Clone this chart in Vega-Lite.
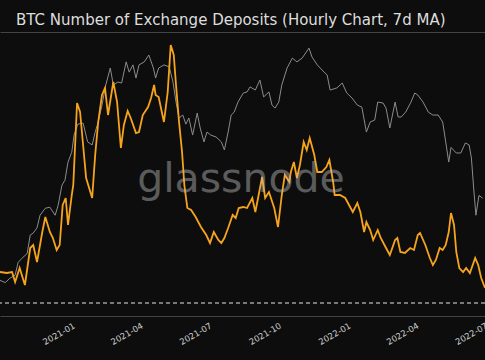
{
  "$schema": "https://vega.github.io/schema/vega-lite/v6.json",
  "width": 485,
  "height": 284,
  "autosize": "none",
  "padding": {"top": 32, "left": 0, "right": 0, "bottom": 44},
  "background": "#0d0d0d",
  "config": {"view": {"stroke": null}},
  "title": {
    "text": "BTC Number of Exchange Deposits (Hourly Chart, 7d MA)",
    "anchor": "start",
    "frame": "group",
    "dx": 16,
    "dy": 14,
    "offset": 6,
    "baseline": "alphabetic",
    "font": "DejaVu Sans",
    "fontSize": 15,
    "fontWeight": "normal",
    "color": "#dddddd"
  },
  "datasets": {
    "price": [
      {"t": "2020-09-28", "p": 10770}, {"t": "2020-10-05", "p": 10590}, {"t": "2020-10-11", "p": 10950},
      {"t": "2020-10-18", "p": 11220}, {"t": "2020-10-22", "p": 12400}, {"t": "2020-10-27", "p": 12800},
      {"t": "2020-11-03", "p": 13300}, {"t": "2020-11-07", "p": 15350}, {"t": "2020-11-11", "p": 15600},
      {"t": "2020-11-16", "p": 16250}, {"t": "2020-11-20", "p": 17940}, {"t": "2020-11-27", "p": 18950},
      {"t": "2020-12-03", "p": 19100}, {"t": "2020-12-10", "p": 17940}, {"t": "2020-12-14", "p": 19400},
      {"t": "2020-12-19", "p": 22700}, {"t": "2020-12-23", "p": 23600}, {"t": "2020-12-27", "p": 27200},
      {"t": "2021-01-01", "p": 29400}, {"t": "2021-01-04", "p": 33600}, {"t": "2021-01-09", "p": 36600},
      {"t": "2021-01-16", "p": 36900}, {"t": "2021-01-22", "p": 31850}, {"t": "2021-01-28", "p": 31100},
      {"t": "2021-02-01", "p": 34400}, {"t": "2021-02-05", "p": 37200}, {"t": "2021-02-10", "p": 42500},
      {"t": "2021-02-15", "p": 49700}, {"t": "2021-02-21", "p": 56800}, {"t": "2021-02-25", "p": 49700},
      {"t": "2021-03-03", "p": 50900}, {"t": "2021-03-08", "p": 50500}, {"t": "2021-03-14", "p": 59600},
      {"t": "2021-03-18", "p": 55000}, {"t": "2021-03-23", "p": 58200}, {"t": "2021-03-27", "p": 52500},
      {"t": "2021-03-31", "p": 58200}, {"t": "2021-04-07", "p": 59600}, {"t": "2021-04-13", "p": 62900},
      {"t": "2021-04-19", "p": 56800}, {"t": "2021-04-22", "p": 52500}, {"t": "2021-04-26", "p": 56800},
      {"t": "2021-05-03", "p": 58200}, {"t": "2021-05-10", "p": 57300}, {"t": "2021-05-15", "p": 50900},
      {"t": "2021-05-19", "p": 43500}, {"t": "2021-05-23", "p": 38400}, {"t": "2021-05-28", "p": 39300},
      {"t": "2021-06-01", "p": 36600}, {"t": "2021-06-05", "p": 38400}, {"t": "2021-06-10", "p": 33600},
      {"t": "2021-06-16", "p": 39900}, {"t": "2021-06-20", "p": 35500}, {"t": "2021-06-25", "p": 31850},
      {"t": "2021-06-29", "p": 34400}, {"t": "2021-07-04", "p": 33600}, {"t": "2021-07-11", "p": 33100},
      {"t": "2021-07-18", "p": 31850}, {"t": "2021-07-22", "p": 29900}, {"t": "2021-07-27", "p": 34400},
      {"t": "2021-07-31", "p": 39300}, {"t": "2021-08-04", "p": 40200}, {"t": "2021-08-09", "p": 43500},
      {"t": "2021-08-16", "p": 46700}, {"t": "2021-08-21", "p": 47100}, {"t": "2021-08-25", "p": 49000},
      {"t": "2021-09-01", "p": 47800}, {"t": "2021-09-07", "p": 51700}, {"t": "2021-09-12", "p": 45300},
      {"t": "2021-09-19", "p": 47100}, {"t": "2021-09-23", "p": 42500}, {"t": "2021-09-27", "p": 41500},
      {"t": "2021-10-02", "p": 43500}, {"t": "2021-10-06", "p": 49700}, {"t": "2021-10-13", "p": 56800},
      {"t": "2021-10-20", "p": 61400}, {"t": "2021-10-26", "p": 59600}, {"t": "2021-11-02", "p": 61400},
      {"t": "2021-11-11", "p": 66400}, {"t": "2021-11-15", "p": 61900}, {"t": "2021-11-22", "p": 58200},
      {"t": "2021-12-01", "p": 55000}, {"t": "2021-12-05", "p": 53800}, {"t": "2021-12-09", "p": 47800},
      {"t": "2021-12-18", "p": 48600}, {"t": "2021-12-25", "p": 50500}, {"t": "2021-12-31", "p": 46700},
      {"t": "2022-01-07", "p": 44900}, {"t": "2022-01-14", "p": 42500}, {"t": "2022-01-20", "p": 41800},
      {"t": "2022-01-26", "p": 34400}, {"t": "2022-01-31", "p": 37200}, {"t": "2022-02-06", "p": 37800},
      {"t": "2022-02-10", "p": 43500}, {"t": "2022-02-17", "p": 43200}, {"t": "2022-02-21", "p": 41500},
      {"t": "2022-02-26", "p": 35500}, {"t": "2022-03-05", "p": 43500}, {"t": "2022-03-09", "p": 38700},
      {"t": "2022-03-13", "p": 38700}, {"t": "2022-03-19", "p": 40200}, {"t": "2022-03-26", "p": 43500},
      {"t": "2022-03-31", "p": 46700}, {"t": "2022-04-04", "p": 46000}, {"t": "2022-04-11", "p": 43500},
      {"t": "2022-04-18", "p": 40200}, {"t": "2022-04-24", "p": 39300}, {"t": "2022-05-01", "p": 39300},
      {"t": "2022-05-07", "p": 37200}, {"t": "2022-05-11", "p": 31850}, {"t": "2022-05-15", "p": 27200},
      {"t": "2022-05-18", "p": 30500}, {"t": "2022-05-25", "p": 29200}, {"t": "2022-05-31", "p": 29200},
      {"t": "2022-06-06", "p": 31600}, {"t": "2022-06-11", "p": 31100}, {"t": "2022-06-14", "p": 28100},
      {"t": "2022-06-17", "p": 22200}, {"t": "2022-06-20", "p": 17940}, {"t": "2022-06-24", "p": 20950},
      {"t": "2022-06-29", "p": 20500}
    ],
    "deposits": [
      {"t": "2020-09-28", "v": 3600}, {"t": "2020-10-07", "v": 3575}, {"t": "2020-10-14", "v": 3600},
      {"t": "2020-10-18", "v": 3350}, {"t": "2020-10-24", "v": 3700}, {"t": "2020-10-31", "v": 3275},
      {"t": "2020-11-07", "v": 4200}, {"t": "2020-11-11", "v": 4275}, {"t": "2020-11-16", "v": 3850},
      {"t": "2020-11-23", "v": 4600}, {"t": "2020-11-27", "v": 4975}, {"t": "2020-12-03", "v": 4600},
      {"t": "2020-12-07", "v": 4450}, {"t": "2020-12-12", "v": 4150}, {"t": "2020-12-16", "v": 4275},
      {"t": "2020-12-20", "v": 5275}, {"t": "2020-12-24", "v": 5450}, {"t": "2020-12-27", "v": 4775},
      {"t": "2021-01-01", "v": 5525}, {"t": "2021-01-03", "v": 5775}, {"t": "2021-01-08", "v": 7825},
      {"t": "2021-01-12", "v": 7600}, {"t": "2021-01-16", "v": 6775}, {"t": "2021-01-20", "v": 5950},
      {"t": "2021-01-28", "v": 5450}, {"t": "2021-02-01", "v": 6525}, {"t": "2021-02-05", "v": 7350},
      {"t": "2021-02-10", "v": 8025}, {"t": "2021-02-14", "v": 8200}, {"t": "2021-02-18", "v": 7525},
      {"t": "2021-02-25", "v": 8350}, {"t": "2021-03-02", "v": 7850}, {"t": "2021-03-07", "v": 6700},
      {"t": "2021-03-11", "v": 7275}, {"t": "2021-03-16", "v": 7625}, {"t": "2021-03-20", "v": 7450},
      {"t": "2021-03-27", "v": 7075}, {"t": "2021-03-31", "v": 7100}, {"t": "2021-04-05", "v": 7525},
      {"t": "2021-04-12", "v": 7725}, {"t": "2021-04-16", "v": 7950}, {"t": "2021-04-20", "v": 8275},
      {"t": "2021-04-22", "v": 8025}, {"t": "2021-04-26", "v": 7975}, {"t": "2021-05-03", "v": 7350},
      {"t": "2021-05-08", "v": 8100}, {"t": "2021-05-12", "v": 9275}, {"t": "2021-05-16", "v": 9025},
      {"t": "2021-05-19", "v": 8275}, {"t": "2021-05-23", "v": 7350}, {"t": "2021-05-27", "v": 6600},
      {"t": "2021-05-30", "v": 5775}, {"t": "2021-06-03", "v": 5200}, {"t": "2021-06-08", "v": 5150},
      {"t": "2021-06-14", "v": 4975}, {"t": "2021-06-21", "v": 4725}, {"t": "2021-06-28", "v": 4525},
      {"t": "2021-07-03", "v": 4325}, {"t": "2021-07-08", "v": 4600}, {"t": "2021-07-14", "v": 4400},
      {"t": "2021-07-18", "v": 4325}, {"t": "2021-07-22", "v": 4450}, {"t": "2021-07-27", "v": 4700},
      {"t": "2021-08-02", "v": 5025}, {"t": "2021-08-06", "v": 4950}, {"t": "2021-08-10", "v": 5200},
      {"t": "2021-08-16", "v": 5225}, {"t": "2021-08-21", "v": 5200}, {"t": "2021-08-28", "v": 5450},
      {"t": "2021-09-01", "v": 5100}, {"t": "2021-09-10", "v": 5975}, {"t": "2021-09-14", "v": 5450},
      {"t": "2021-09-19", "v": 5600}, {"t": "2021-09-26", "v": 5200}, {"t": "2021-10-01", "v": 4725},
      {"t": "2021-10-06", "v": 5525}, {"t": "2021-10-10", "v": 6025}, {"t": "2021-10-16", "v": 5850},
      {"t": "2021-10-18", "v": 6100}, {"t": "2021-10-22", "v": 6350}, {"t": "2021-10-26", "v": 5950},
      {"t": "2021-10-30", "v": 6275}, {"t": "2021-11-04", "v": 6850}, {"t": "2021-11-08", "v": 6650},
      {"t": "2021-11-12", "v": 6950}, {"t": "2021-11-18", "v": 6525}, {"t": "2021-11-22", "v": 6100},
      {"t": "2021-11-28", "v": 6100}, {"t": "2021-12-04", "v": 6225}, {"t": "2021-12-08", "v": 6400},
      {"t": "2021-12-13", "v": 5850}, {"t": "2021-12-15", "v": 5525}, {"t": "2021-12-22", "v": 5525},
      {"t": "2021-12-29", "v": 5450}, {"t": "2022-01-03", "v": 5275}, {"t": "2022-01-08", "v": 5100},
      {"t": "2022-01-14", "v": 5325}, {"t": "2022-01-18", "v": 5100}, {"t": "2022-01-23", "v": 4600},
      {"t": "2022-01-26", "v": 4850}, {"t": "2022-01-31", "v": 4650}, {"t": "2022-02-04", "v": 4400},
      {"t": "2022-02-10", "v": 4650}, {"t": "2022-02-14", "v": 4450}, {"t": "2022-02-21", "v": 4200},
      {"t": "2022-02-26", "v": 4025}, {"t": "2022-03-05", "v": 4400}, {"t": "2022-03-08", "v": 4450},
      {"t": "2022-03-12", "v": 4100}, {"t": "2022-03-18", "v": 4075}, {"t": "2022-03-25", "v": 4200},
      {"t": "2022-03-30", "v": 4150}, {"t": "2022-04-04", "v": 4525}, {"t": "2022-04-07", "v": 4575},
      {"t": "2022-04-14", "v": 4275}, {"t": "2022-04-20", "v": 3950}, {"t": "2022-04-24", "v": 3775},
      {"t": "2022-04-28", "v": 3900}, {"t": "2022-05-03", "v": 4200}, {"t": "2022-05-07", "v": 4150},
      {"t": "2022-05-11", "v": 4275}, {"t": "2022-05-15", "v": 4600}, {"t": "2022-05-18", "v": 5075},
      {"t": "2022-05-22", "v": 4775}, {"t": "2022-05-25", "v": 4100}, {"t": "2022-05-29", "v": 3700},
      {"t": "2022-06-03", "v": 3600}, {"t": "2022-06-07", "v": 3700}, {"t": "2022-06-12", "v": 3575},
      {"t": "2022-06-19", "v": 3950}, {"t": "2022-06-23", "v": 3775}, {"t": "2022-06-27", "v": 3450},
      {"t": "2022-07-02", "v": 3200}
    ],
    "threshold": [{"level": 2825}],
    "mark": [{"label": "glassnode", "t": "2021-08-13", "v": 5600}]
  },
  "layer": [
    {
      "data": {"name": "price"},
      "mark": {"type": "line", "color": "#8c8c8c", "strokeWidth": 1},
      "encoding": {
        "x": {
          "field": "t", "type": "temporal",
          "scale": {"domain": [{"year": 2020, "month": 9, "date": 28}, {"year": 2022, "month": 7, "date": 2}]},
          "axis": {
            "title": null, "format": "%Y-%m",
            "values": [
              {"year": 2021, "month": 1, "date": 1}, {"year": 2021, "month": 4, "date": 1},
              {"year": 2021, "month": 7, "date": 1}, {"year": 2021, "month": 10, "date": 1},
              {"year": 2022, "month": 1, "date": 1}, {"year": 2022, "month": 4, "date": 1},
              {"year": 2022, "month": 7, "date": 1}
            ],
            "labelAngle": -30, "labelAlign": "right", "labelBaseline": "top",
            "labelFont": "DejaVu Sans", "labelFontSize": 8.5, "labelColor": "#cccccc",
            "labelPadding": 5, "ticks": false, "grid": false,
            "domainColor": "#444444", "labelFlush": false, "labelOverlap": false
          }
        },
        "y": {"field": "p", "type": "quantitative", "scale": {"type": "log", "domain": [8150, 75300]}, "axis": null}
      }
    },
    {
      "data": {"name": "deposits"},
      "mark": {"type": "line", "color": "#f7a41d", "strokeWidth": 1.8},
      "encoding": {
        "x": {
          "field": "t", "type": "temporal",
          "axis": {"orient": "top", "title": null, "labels": false, "ticks": false, "grid": false, "domainColor": "#444444"}
        },
        "y": {"field": "v", "type": "quantitative", "scale": {"domain": [2500, 9600]}, "axis": null}
      }
    },
    {
      "data": {"name": "threshold"},
      "mark": {"type": "rule", "color": "#e6e6e6", "strokeWidth": 1, "strokeDash": [4, 3]},
      "encoding": {
        "y": {"field": "level", "type": "quantitative", "scale": {"domain": [2500, 9600]}, "axis": null}
      }
    },
    {
      "data": {"name": "mark"},
      "mark": {"type": "text", "font": "DejaVu Sans", "fontSize": 41, "align": "center", "baseline": "alphabetic", "color": "#bbbbbb", "opacity": 0.45},
      "encoding": {
        "x": {"field": "t", "type": "temporal", "axis": null},
        "y": {"field": "v", "type": "quantitative", "scale": {"domain": [2500, 9600]}, "axis": null},
        "text": {"field": "label"}
      }
    }
  ],
  "resolve": {"scale": {"y": "independent"}, "axis": {"x": "independent"}}
}
